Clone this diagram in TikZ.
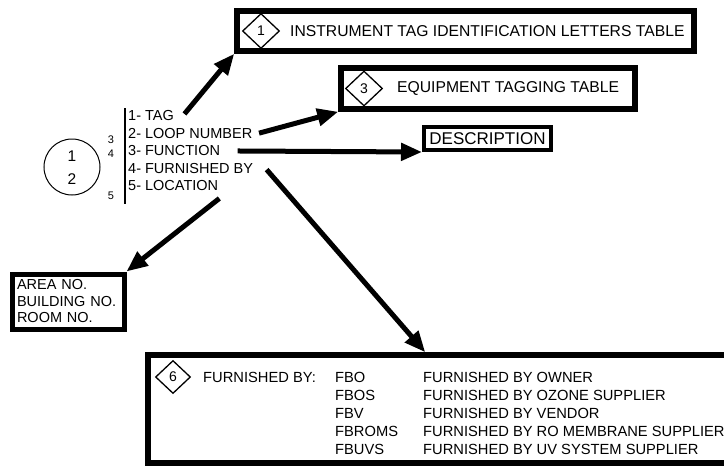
\documentclass[tikz,border=0pt]{standalone}
\usepackage{fontspec}
\setmainfont{Liberation Sans}
\usetikzlibrary{shapes.geometric}
\usetikzlibrary{arrows.meta}

\begin{document}
\begin{tikzpicture}[x=1pt,y=-1pt,line cap=rect,
    tagbox/.style={draw, line width=5.5pt, inner sep=0pt},
    tabdiamond/.style={draw, diamond, line width=1.3pt, minimum width=37pt, minimum height=35pt, inner sep=0pt, font=\fontsize{14}{14}\selectfont},
    bigarrow/.style={line width=5pt, -{Triangle[length=21pt,width=17pt]}},
    lbl/.style={inner sep=0pt, anchor=west}]
				\def\listfont{\fontsize{14.5}{16.5}\selectfont}
				\def\tablefont{\fontsize{15.7}{18}\selectfont}
				\def\fbfont{\fontsize{14.7}{17}\selectfont}
				\useasboundingbox (0,0) rectangle (724,466);
				% instrument bubble
				\node[draw, circle, line width=1pt, minimum size=56pt, inner sep=0pt] (bubble) at (72,167) {};
				\node[font=\fontsize{15.5}{15.5}\selectfont] (top) at (72,156) {1};
				\node[font=\fontsize{15.5}{15.5}\selectfont] (bot) at (72,179) {2};
				\node[font=\fontsize{11}{11}\selectfont] (n3) at (111,140) {3};
				\node[font=\fontsize{11}{11}\selectfont] (n4) at (111,154) {4};
				\node[font=\fontsize{11}{11}\selectfont] (n5) at (111,196) {5};
				\draw [line width=1.2pt] (125,109) -- (125,203);
				% legend items
				\node[lbl, font=\listfont] (tag) at (128,116) {1- TAG};
				\node[lbl, font=\listfont] (loop) at (128,133.5) {2- LOOP NUMBER};
				\node[lbl, font=\listfont] (func) at (128,151) {3- FUNCTION};
				\node[lbl, font=\listfont] (furn) at (128,168.5) {4- FURNISHED BY};
				\node[lbl, font=\listfont] (loc) at (128,186) {5- LOCATION};
				% tables
				\node[tagbox, minimum width=457pt, minimum height=40pt] (instr) at (465.5,31) {};
				\node[tabdiamond] (d1) at (261,31) {1};
				\node[lbl, font=\tablefont] (instrtext) at (290,31) {INSTRUMENT TAG IDENTIFICATION LETTERS TABLE};
				\node[tagbox, minimum width=294pt, minimum height=41pt] (equip) at (488,88.5) {};
				\node[tabdiamond] (d3) at (364,88.5) {3};
				\node[lbl, font=\tablefont] (equiptext) at (397,88.5) {EQUIPMENT TAGGING TABLE};
				\node[tagbox, line width=4pt, minimum width=127pt, minimum height=23pt, font=\fontsize{17}{17}\selectfont] (desc) at (487.5,138.5) {DESCRIPTION};
				\node[tagbox, line width=5pt, minimum width=112pt, minimum height=55pt, text width=102pt, inner xsep=5pt, align=left, font=\listfont] (area) at (68,301.5) {AREA NO.\\BUILDING NO.\\ROOM NO.};
				\node[tagbox, minimum width=642pt, minimum height=108pt] (fb) at (469,409) {};
				\node[tabdiamond, minimum width=35pt, minimum height=33pt] (d6) at (173,377) {6};
				\node[lbl, font=\fbfont] (fbhead) at (203,377) {FURNISHED BY:};
				\node[lbl, font=\fbfont] (fbo) at (335,377) {FBO};
				\node[lbl, font=\fbfont] (fbos) at (335,395.2) {FBOS};
				\node[lbl, font=\fbfont] (fbv) at (335,413.4) {FBV};
				\node[lbl, font=\fbfont] (fbroms) at (335,431.6) {FBROMS};
				\node[lbl, font=\fbfont] (fbuvs) at (335,449.8) {FBUVS};
				\node[lbl, font=\fbfont] (fbotext) at (423,377) {FURNISHED BY OWNER};
				\node[lbl, font=\fbfont] (fbostext) at (423,395.2) {FURNISHED BY OZONE SUPPLIER};
				\node[lbl, font=\fbfont] (fbvtext) at (423,413.4) {FURNISHED BY VENDOR};
				\node[lbl, font=\fbfont] (fbromstext) at (423,431.6) {FURNISHED BY RO MEMBRANE SUPPLIER};
				\node[lbl, font=\fbfont] (fbuvstext) at (423,449.8) {FURNISHED BY UV SYSTEM SUPPLIER};
				% pointers
				\draw [bigarrow] ([xshift=12pt,yshift=4pt]tag.east) -- (instr.south west);
				\draw [bigarrow] ([xshift=9pt,yshift=1pt]loop.east) -- (equip.south west);
				\draw [bigarrow] ([xshift=20pt]func.east) -- (desc.south west);
				\draw [bigarrow] ([xshift=15pt,yshift=-3pt]furn.east) -- ([xshift=280pt]fb.north west);
				\draw [bigarrow] ([xshift=-1pt,yshift=-14pt]loc.east) -- (area.north east);
\end{tikzpicture}
\end{document}
